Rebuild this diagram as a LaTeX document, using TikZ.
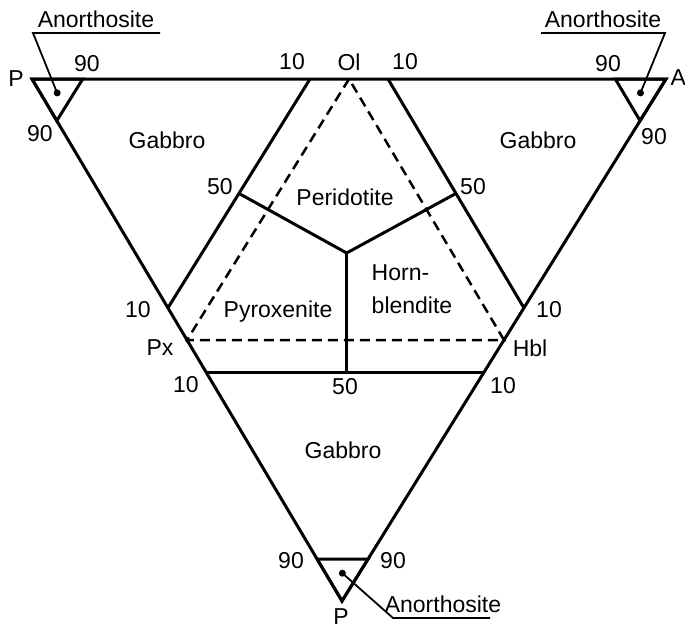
\documentclass[tikz,border=0pt]{standalone}
\usepackage{fontspec}
\setmainfont{Liberation Sans}
\usetikzlibrary{calc}

\begin{document}
\begin{tikzpicture}[x=1pt, y=-1pt, line width=3pt,
    rot/.style={font=\fontsize{23}{33}\selectfont, inner sep=0pt},
    tracejado/.style={dash pattern=on 10pt off 6pt, line width=2.5pt},
    guia/.style={line width=1.8pt}]
    \useasboundingbox (0,0) rectangle (685,629);

    % Vertices
    \coordinate (P1) at (32,79);
    \coordinate (P2) at (666,79);
    \coordinate (P3) at (342,601);
    \coordinate (Ol) at ($(P1)!0.5!(P2)$);
    \coordinate (Px) at ($(P1)!0.5!(P3)$);
    \coordinate (Hbl) at ($(P2)!0.5!(P3)$);

    % Triangulos
    \draw (P1) -- (P2) -- (P3) -- cycle;
    \draw[tracejado] (Ol) -- (Px) -- (Hbl) -- cycle;

    % Linhas de 10%
    \coordinate (a1) at ($(Ol)!0.123!(P1)$);
    \coordinate (a2) at ($(Px)!0.123!(P1)$);
    \coordinate (b1) at ($(Ol)!0.123!(P2)$);
    \coordinate (b2) at ($(Hbl)!0.123!(P2)$);
    \coordinate (c1) at ($(Px)!0.123!(P3)$);
    \coordinate (c2) at ($(Hbl)!0.123!(P3)$);
    \draw (a1) -- (a2);
    \draw (b1) -- (b2);
    \draw (c1) -- (c2);

    % Limites de 50%
    \coordinate (C) at ($(Ol)!2/3!($(Px)!0.5!(Hbl)$)$);
    \coordinate (m1) at ($(a1)!0.5!(a2)$);
    \coordinate (m2) at ($(b1)!0.5!(b2)$);
    \draw (m1) -- (C) -- (m2);
    \draw (C) -- (C |- c1);

    % Cantos de anortosito
    \foreach \v/\a/\b/\n in {P1/P2/P3/1, P2/P1/P3/2, P3/P1/P2/3} {
        \draw ($(\v)!0.08!(\a)$) -- (\v) -- ($(\v)!0.08!(\b)$) -- cycle;
        \coordinate (dot\n) at ($(\v)!0.0533!($(\a)!0.5!(\b)$)$);
        \fill (dot\n) circle (3.5pt);
    }

    % Chamadas
    \node[rot] (an1) at (96,19) {Anorthosite};
    \coordinate (q1) at (33,33);
    \coordinate (r1) at (160,33);
    \draw[guia] (dot1) -- (q1) -- (r1);
    \node[rot] (an2) at (603,19) {Anorthosite};
    \coordinate (q2) at (665,33);
    \coordinate (r2) at (541,33);
    \draw[guia] (dot2) -- (q2) -- (r2);
    \node[rot] (an3) at (443,604) {Anorthosite};
    \coordinate (q3) at (393,618);
    \coordinate (r3) at (490,618);
    \draw[guia] (dot3) -- (q3) -- (r3);

    % Rotulos
    \foreach \x/\y/\t [count=\i] in {16/79/P, 87/64/90, 40/134/90, 292/62/10,
        349/62/Ol, 405/62/10, 608/64/90, 654/137/90, 220/187/50, 473/187/50,
        138/310/10, 160/348/Px, 186/385/10, 549/310/10, 530/348/Hbl,
        503/386/10, 345/387/50, 291/561/90, 393/561/90, 341/617/P}
        \node[rot] (r\i) at (\x,\y) {\t};
    \node[rot, anchor=west] (rA) at (669,78) {A};

    \node[rot] (g1) at (167,140) {Gabbro};
    \node[rot] (g2) at (538,140) {Gabbro};
    \node[rot] (g3) at (343,450) {Gabbro};
    \node[rot] (per) at (345,197) {Peridotite};
    \node[rot] (pyr) at (278,312) {Pyroxenite};
    \node[rot, align=left] (hor) at (412,289) {Horn-\\blendite};
\end{tikzpicture}
\end{document}
